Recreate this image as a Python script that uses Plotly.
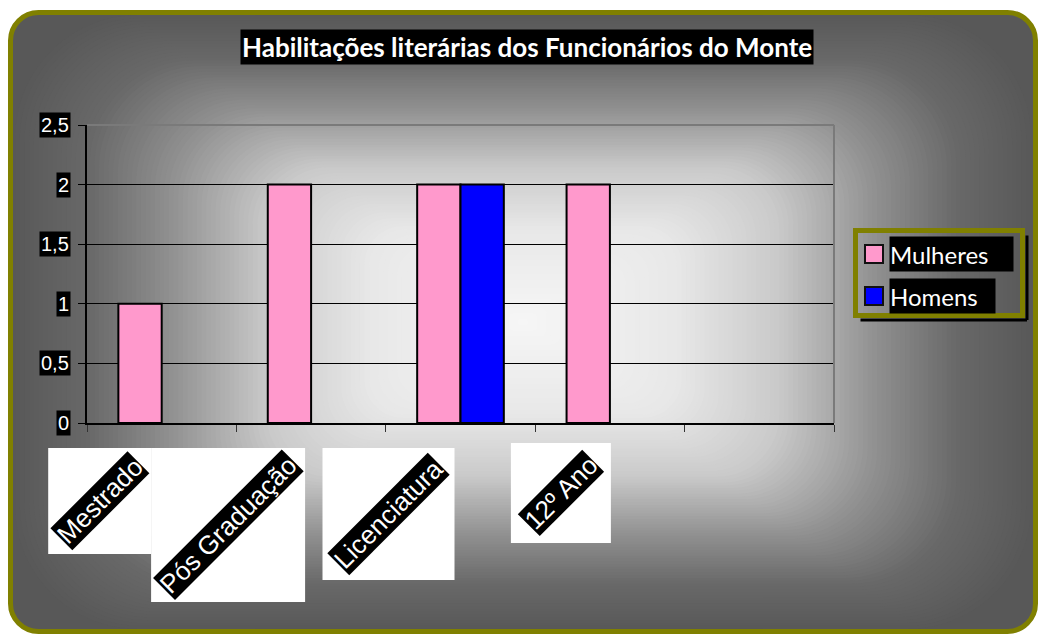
import plotly.graph_objects as go

# ---------------- data ----------------
categories = ["Mestrado", "Pós Graduação", "Licenciatura", "12º Ano"]
mulheres = [1, 2, 2, 2]
homens = [None, None, 2, None]
series_names = ["Mulheres", "Homens"]
series_colors = ["#FF99CC", "#0000FF"]
y_ticks = [0, 0.5, 1, 1.5, 2, 2.5]
y_tick_labels = ["0", "0,5", "1", "1,5", "2", "2,5"]
title_text = "Habilitações literárias dos Funcionários do Monte"
n_slots = 5  # chart has one empty category slot on the right

# ---------------- layout constants (reference pixels) ----------------
OX, OY = 0, 0            # page body margin removed by post_script
FW, FH = 1039 - OX, 634 - OY
L, R, T, B = 87, 834, 125, 423  # plot area in reference pixels


def pp(x, y):
    return (x - L) / (R - L), (B - y) / (B - T)


def rrect_path(x0, y0, x1, y1, r):
    k = 0.5523
    def P(x, y):
        a, b = pp(x, y)
        return f"{a:.5f},{b:.5f}"
    d = f"M{P(x0 + r, y0)} L{P(x1 - r, y0)} "
    d += f"C{P(x1 - r + k * r, y0)} {P(x1, y0 + r - k * r)} {P(x1, y0 + r)} "
    d += f"L{P(x1, y1 - r)} "
    d += f"C{P(x1, y1 - r + k * r)} {P(x1 - r + k * r, y1)} {P(x1 - r, y1)} "
    d += f"L{P(x0 + r, y1)} "
    d += f"C{P(x0 + r - k * r, y1)} {P(x0, y1 - r + k * r)} {P(x0, y1 - r)} "
    d += f"L{P(x0, y0 + r)} "
    d += f"C{P(x0, y0 + r - k * r)} {P(x0 + r - k * r, y0)} {P(x0 + r, y0)} Z"
    return d


shapes = []

# background gradient (rectangular, from centre)
bx0, by0, bx1, by1 = 10.5, 12.5, 1035.5, 631.5
cx, cy = (bx0 + bx1) / 2, (by0 + by1) / 2
hw, hh = (bx1 - bx0) / 2, (by1 - by0) / 2
stops = [(0, 246), (0.3, 232), (0.5, 202), (0.7, 142), (0.85, 105), (1.0, 88)]


def gray(t):
    for (t0, g0), (t1, g1) in zip(stops[:-1], stops[1:]):
        if t <= t1:
            return int(round(g0 + (g1 - g0) * (t - t0) / (t1 - t0)))
    return stops[-1][1]


N = 110
for i in range(N):
    s = 1 - i / N
    a, b = hw * s, hh * s
    r = 28 if i == 0 else min(a, b) * 0.4
    g = gray(s)
    shapes.append(dict(type="path", xref="paper", yref="paper",
                       path=rrect_path(cx - a, cy - b, cx + a, cy + b, r),
                       fillcolor=f"rgb({g},{g},{g})", line=dict(width=0),
                       layer="below"))

# outer olive border
shapes.append(dict(type="path", xref="paper", yref="paper",
                   path=rrect_path(bx0, by0, bx1, by1, 28),
                   fillcolor="rgba(0,0,0,0)", line=dict(color="#808000", width=5),
                   layer="below"))

# plot area top/right border (gray)
shapes.append(dict(type="line", xref="paper", yref="paper", x0=0, x1=1, y0=1, y1=1,
                   line=dict(color="#7a7a7a", width=2), layer="above"))
shapes.append(dict(type="line", xref="paper", yref="paper", x0=1, x1=1, y0=0, y1=1,
                   line=dict(color="#7a7a7a", width=2), layer="above"))

annotations = []

# title
tx, ty = pp(527, 47)
annotations.append(dict(text=f"<b>{title_text}</b>", x=tx, y=ty, xref="paper", yref="paper",
                        xanchor="center", yanchor="middle", showarrow=False,
                        font=dict(family="Lato", size=26, color="white"),
                        bgcolor="black", borderpad=1))

# y tick labels (white on black)
for v, lab in zip(y_ticks, y_tick_labels):
    annotations.append(dict(text=lab, x=0, y=v, xref="paper", yref="y",
                            xanchor="right", yanchor="middle", xshift=-16, showarrow=False,
                            font=dict(family="Liberation Sans", size=20, color="white"),
                            bgcolor="black", borderpad=1))

# category labels: white boxes with rotated black banners
label_dx = [-62, -83, -72, -49]
label_dy = [-78, -102, -91, -70]
box_w = [103, 154, 132, 100]
box_h = [106, 154, 132, 100]
slot_w = (R - L) / n_slots
for i, cat in enumerate(categories):
    ccx = L + (i + 0.5) * slot_w + label_dx[i]
    ccy = B - label_dy[i]
    q0, r0 = pp(ccx - box_w[i] / 2, ccy + box_h[i] / 2)
    q1, r1 = pp(ccx + box_w[i] / 2, ccy - box_h[i] / 2)
    shapes.append(dict(type="rect", xref="paper", yref="paper", x0=q0, x1=q1, y0=r0, y1=r1,
                       fillcolor="white", line=dict(width=0), layer="below"))
    annotations.append(dict(text=cat, x=i, y=0, xref="x", yref="paper",
                            xanchor="center", yanchor="middle",
                            xshift=label_dx[i], yshift=label_dy[i], textangle=-45,
                            showarrow=False,
                            font=dict(family="Liberation Sans", size=26, color="white"),
                            bgcolor="black", borderpad=0))

# custom legend
lx0, ly0, lx1, ly1 = 855.5, 230.5, 1022.5, 315.5
a0, b0 = pp(lx0, ly0)
a1, b1 = pp(lx1, ly1)
sa, sb = pp(lx1 + 4.5, ly0 + 5)
sc, sd = pp(lx0 + 5, ly1 + 4.5)
shapes.append(dict(type="line", xref="paper", yref="paper", x0=sa, x1=sa, y0=sb, y1=sd,
                   line=dict(color="black", width=3)))
shapes.append(dict(type="line", xref="paper", yref="paper", x0=sc, x1=sa, y0=sd, y1=sd,
                   line=dict(color="black", width=3)))
shapes.append(dict(type="rect", xref="paper", yref="paper", x0=a0, x1=a1, y0=b0, y1=b1,
                   fillcolor="rgba(0,0,0,0)", line=dict(color="#808000", width=5)))
leg_rows = [254, 296]
leg_text_w = [123, 105]
for name, col, yc, tw in zip(series_names, series_colors, leg_rows, leg_text_w):
    q0, r0 = pp(865, yc - 9)
    q1, r1 = pp(883, yc + 9)
    shapes.append(dict(type="rect", xref="paper", yref="paper", x0=q0, x1=q1, y0=r0, y1=r1,
                       fillcolor=col, line=dict(color="#111111", width=2)))
    ax_, ay_ = pp(889, yc)
    annotations.append(dict(text=name, x=ax_, y=ay_, xref="paper", yref="paper",
                            xanchor="left", yanchor="middle", showarrow=False, align="left",
                            width=tw, height=34,
                            font=dict(family="Lato", size=24, color="white"),
                            bgcolor="black", borderpad=0))

fig = go.Figure()
xs = list(range(len(categories)))
for name, vals, col in zip(series_names, [mulheres, homens], series_colors):
    fig.add_trace(go.Bar(x=xs, y=vals, name=name,
                         marker=dict(color=col, line=dict(color="black", width=2)),
                         showlegend=False))

fig.update_layout(
    width=FW, height=FH, autosize=False,
    margin=dict(l=L - OX, r=FW - (R - OX), t=T - OY, b=FH - (B - OY), pad=0),
    paper_bgcolor="white", plot_bgcolor="rgba(0,0,0,0)",
    barmode="group", bargap=0.42, bargroupgap=0,
    shapes=shapes, annotations=annotations,
    xaxis=dict(range=[-0.5, n_slots - 0.5], tickvals=[k - 0.5 for k in range(n_slots + 1)],
               showticklabels=False, ticks="outside", ticklen=7, tickcolor="#333333",
               showgrid=False, zeroline=False, showline=True, linecolor="black", linewidth=1.5,
               fixedrange=True),
    yaxis=dict(range=[0, 2.5], tickvals=y_ticks, showticklabels=False, ticks="outside",
               ticklen=7, tickcolor="black", showgrid=True, gridcolor="black", gridwidth=1,
               zeroline=False, showline=True, linecolor="black", linewidth=1.5, fixedrange=True),
)

fig.write_html("out.html", config={"displayModeBar": False},
               post_script="document.body.style.margin='0';document.body.style.overflow='hidden';")
